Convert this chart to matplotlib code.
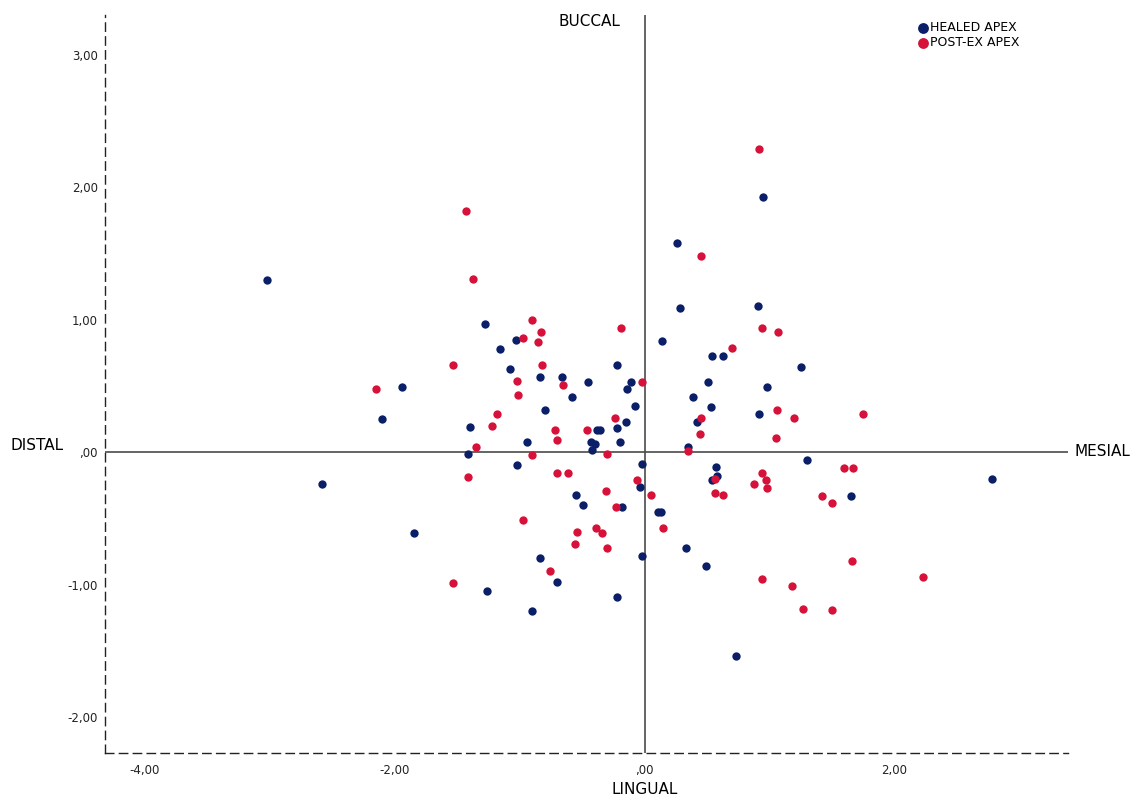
import matplotlib.pyplot as plt
from matplotlib.ticker import FixedLocator, FuncFormatter

# HEALED APEX (blue)
healed_x = [-3.02, -2.58, -2.10, -1.94, -1.85, -1.40, -1.41, -1.28, -1.26, -1.16,
            -1.08, -1.03, -1.02, -0.94, -0.84, -0.84, -0.80, -0.90, -0.70, -0.66,
            -0.58, -0.55, -0.49, -0.45, -0.43, -0.42, -0.38, -0.40, -0.36, -0.22,
            -0.22, -0.20, -0.18, -0.22, -0.15, -0.14, -0.11, -0.08, -0.04, -0.02,
            -0.02, 0.11, 0.13, 0.14, 0.26, 0.28, 0.33, 0.35, 0.39, 0.42,
            0.49, 0.51, 0.54, 0.53, 0.54, 0.57, 0.58, 0.63, 0.73, 0.91,
            0.92, 0.95, 0.98, 1.25, 1.30, 1.65, 2.78]
healed_y = [1.30, -0.24, 0.25, 0.49, -0.61, 0.19, -0.01, 0.97, -1.05, 0.78,
            0.63, 0.85, -0.10, 0.08, -0.80, 0.57, 0.32, -1.20, -0.98, 0.57,
            0.42, -0.32, -0.40, 0.53, 0.08, 0.02, 0.17, 0.06, 0.17, 0.66,
            0.18, 0.08, -0.41, -1.09, 0.23, 0.48, 0.53, 0.35, -0.26, -0.09,
            -0.78, -0.45, -0.45, 0.84, 1.58, 1.09, -0.72, 0.04, 0.42, 0.23,
            -0.86, 0.53, 0.73, 0.34, -0.21, -0.11, -0.18, 0.73, -1.54, 1.10,
            0.29, 1.93, 0.49, 0.64, -0.06, -0.33, -0.20]

# POST-EX APEX (red)
postex_x = [-2.15, -1.53, -1.43, -1.41, -1.37, -1.35, -1.53, -1.22, -1.18, -1.02,
            -1.01, -0.97, -0.97, -0.90, -0.90, -0.85, -0.83, -0.82, -0.76, -0.72,
            -0.70, -0.70, -0.65, -0.61, -0.56, -0.54, -0.46, -0.39, -0.34, -0.30,
            -0.31, -0.30, -0.24, -0.23, -0.19, -0.06, -0.02, 0.05, 0.15, 0.35,
            0.45, 0.44, 0.45, 0.56, 0.56, 0.63, 0.70, 0.88, 0.92, 0.94,
            0.94, 0.94, 0.97, 0.98, 1.05, 1.06, 1.07, 1.18, 1.20, 1.27,
            1.42, 1.50, 1.50, 1.60, 1.67, 1.66, 1.75, 2.23]
postex_y = [0.48, 0.66, 1.82, -0.19, 1.31, 0.04, -0.99, 0.20, 0.29, 0.54,
            0.43, 0.86, -0.51, 1.00, -0.02, 0.83, 0.91, 0.66, -0.90, 0.17,
            0.09, -0.16, 0.51, -0.16, -0.69, -0.60, 0.17, -0.57, -0.61, -0.72,
            -0.29, -0.01, 0.26, -0.41, 0.94, -0.21, 0.53, -0.32, -0.57, 0.01,
            1.48, 0.14, 0.26, -0.20, -0.31, -0.32, 0.79, -0.24, 2.29, 0.94,
            -0.16, -0.96, -0.21, -0.27, 0.11, 0.32, 0.91, -1.01, 0.26, -1.18,
            -0.33, -0.38, -1.19, -0.12, -0.12, -0.82, 0.29, -0.94]

x_ticks = [-4, -2, 0, 2]
y_ticks = [-2, -1, 0, 1, 2, 3]

blue = '#0b1f68'
red = '#d6123a'


def spss_fmt(v, pos):
    # SPSS style: comma decimals, no leading zero for 0
    s = f'{v:.2f}'.replace('.', ',')
    if s in ('0,00', '-0,00'):
        s = ',00'
    return s


fig = plt.figure(figsize=(11.45, 7.98), dpi=100)
ax = fig.add_axes([105 / 1145, 1 - 753 / 798, 963 / 1145, 738 / 798])

ax.scatter(healed_x, healed_y, s=36, color=blue, label='HEALED APEX', zorder=3, linewidths=0)
ax.scatter(postex_x, postex_y, s=36, color=red, label='POST-EX APEX', zorder=3, linewidths=0)

# reference lines through the origin
ax.axvline(0, color='#4a4a4a', lw=1.2, zorder=1)
ax.axhline(0, color='#4a4a4a', lw=1.2, zorder=1)

ax.set_xlim(-4.32, 3.39)
ax.set_ylim(-2.27, 3.30)

ax.xaxis.set_major_locator(FixedLocator(x_ticks))
ax.yaxis.set_major_locator(FixedLocator(y_ticks))
ax.xaxis.set_major_formatter(FuncFormatter(spss_fmt))
ax.yaxis.set_major_formatter(FuncFormatter(spss_fmt))
ax.tick_params(length=0, labelsize=8.5, colors='#222222')
ax.tick_params(axis='x', pad=8)
ax.tick_params(axis='y', pad=5)

for side in ['top', 'right']:
    ax.spines[side].set_visible(False)
for side in ['left', 'bottom']:
    ax.spines[side].set_linestyle((0, (6, 4)))
    ax.spines[side].set_linewidth(1.0)
    ax.spines[side].set_color('#222222')

fig.text(589 / 1145, 1 - 22 / 798, 'BUCCAL', ha='center', va='center', fontsize=11)
fig.text(645 / 1145, 1 - 789 / 798, 'LINGUAL', ha='center', va='center', fontsize=11)
fig.text(37 / 1145, 1 - 445 / 798, 'DISTAL', ha='center', va='center', fontsize=11)
fig.text(1102 / 1145, 1 - 452 / 798, 'MESIAL', ha='center', va='center', fontsize=11)

fig.legend(loc='upper left', bbox_to_anchor=(910 / 1145, 1 - 15 / 798), frameon=False,
           fontsize=9, handletextpad=0.1, borderpad=0, labelspacing=0.15,
           handlelength=1.0, markerscale=1.3)

fig.savefig('out.png', dpi=100)
